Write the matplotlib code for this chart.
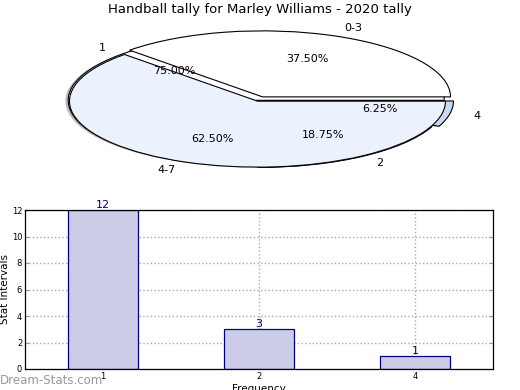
import numpy as np
import matplotlib
matplotlib.use('Agg')
import matplotlib.pyplot as plt

# Pie data: intervals and frequencies
interval_labels = ['0-3', '4-7']
interval_values = [6, 10]
freq_labels = ['1', '2', '4']
freq_values = [12, 3, 1]

# Bar data
bar_labels = ['1', '2', '4']
bar_values = [12, 3, 1]

fig = plt.figure(figsize=(5.2, 3.9), dpi=100)
W, H = 520, 390

fig.text(0.5, 1 - 10 / H, 'Handball tally for Marley Williams - 2020 tally',
         ha='center', va='center', fontsize=9.5)

# Pie axes: centre at (260, 99) px, radii 188 x 66 px
cx, cy, rx, ry = 260, 99, 188, 66
xl, yl = 1.35, 1.45
axp = fig.add_axes([(cx - xl * rx) / W, 1 - (cy + yl * ry) / H,
                    2 * xl * rx / W, 2 * yl * ry / H])
pct = lambda p: f'{p:.2f}%'

# shadow of the frequency pie
axp.pie(freq_values, startangle=0, counterclock=True, center=(-0.035, -0.03),
        colors=['#888888'] * 3, explode=(0, 0.02, 0.05),
        wedgeprops=dict(linewidth=0, alpha=0.6))
# frequency pie (underneath)
axp.pie(freq_values, labels=freq_labels, autopct=pct, startangle=0,
        center=(-0.02, -0.02), explode=(0, 0.02, 0.05),
        colors=['white', 'white', '#c6daf6'], pctdistance=0.62,
        labeldistance=1.13, textprops=dict(fontsize=8),
        wedgeprops=dict(edgecolor='black', linewidth=0.8))
# interval pie (on top)
axp.pie(interval_values, labels=interval_labels, autopct=pct, startangle=0,
        explode=(0.035, 0.035), colors=['white', '#ebf1fd'],
        pctdistance=0.62, labeldistance=1.13, textprops=dict(fontsize=8),
        wedgeprops=dict(edgecolor='black', linewidth=0.8))
axp.set_aspect('auto')
axp.set_xlim(-xl, xl)
axp.set_ylim(-yl, yl)
axp.axis('off')

# Bar axes
axb = fig.add_axes([25 / W, 1 - 369 / H, 468 / W, 159 / H])
x = np.arange(len(bar_values))
axb.bar(x, bar_values, width=0.45, color='#ccccE6', edgecolor='#000080',
        linewidth=0.9, zorder=2)
for xi, v in zip(x, bar_values):
    axb.text(xi, v, str(v), ha='center', va='bottom', color='#000080',
             fontsize=8, zorder=3)
axb.set_xlim(-0.5, 2.5)
axb.set_ylim(0, 12)
axb.set_yticks(range(0, 13, 2))
axb.set_xticks(x)
axb.set_xticklabels(bar_labels)
axb.tick_params(labelsize=6, length=3, color='#999999', direction='in',
                right=True, top=False, pad=2)
axb.grid(True, linestyle=':', color='#aaaaaa', linewidth=1, zorder=1)
axb.set_axisbelow(True)
axb.set_ylabel('Stat Intervals', fontsize=7.5)
axb.yaxis.set_label_coords(-0.032, 0.5)
axb.set_xlabel('Frequency', fontsize=7.5, labelpad=2)
for s in axb.spines.values():
    s.set_linewidth(0.9)

fig.text(0 / W, 1 - 380 / H, 'Dream-Stats.com', ha='left', va='center',
         fontsize=8.5, color='#999999')

fig.savefig('out.png', dpi=100)
